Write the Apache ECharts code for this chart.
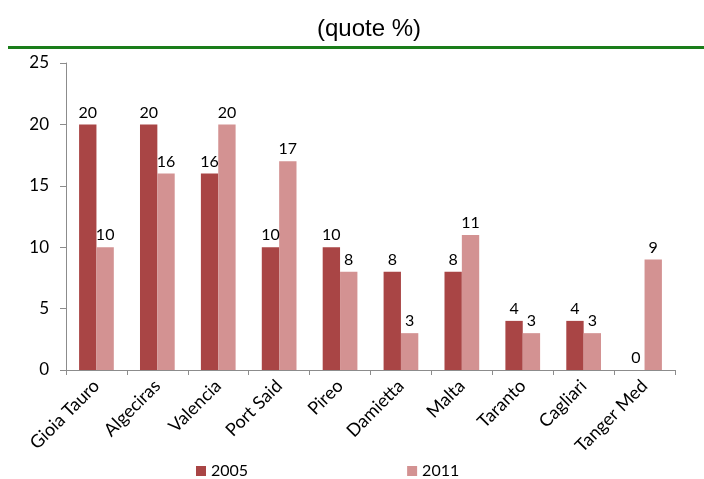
<!DOCTYPE html>
<html><head><meta charset="utf-8">
<script src="https://cdn.jsdelivr.net/npm/echarts@6/dist/echarts.min.js"></script>
<style>html,body{margin:0;padding:0;background:#fff}#c{width:704px;height:479px}</style>
</head><body><div id="c"></div>
<script>
var categories = ["Gioia Tauro","Algeciras","Valencia","Port Said","Pireo","Damietta","Malta","Taranto","Cagliari","Tanger Med"];
var values2005 = [20,20,16,10,10,8,8,4,4,0];
var values2011 = [10,16,20,17,8,3,11,3,3,9];
var seriesNames = ["2005","2011"];
var chart = echarts.init(document.getElementById('c'));
var font = 'Lato, "Open Sans", sans-serif';
var lbl = {show:true, position:'top', distance:4, color:'#000', fontFamily:font, fontSize:16};
chart.setOption({
  animation:false,
  title:{text:'(quote %)', left:364, textAlign:'center', top:12,
    textStyle:{fontFamily:'"Liberation Sans", Arial, sans-serif', fontWeight:'normal', fontSize:24, color:'#000'}},
  graphic:[{type:'rect', shape:{x:8,y:46,width:696,height:3}, style:{fill:'#1a7d1a'}}],
  legend:{top:458, left:191, itemWidth:10, itemHeight:10, itemGap:159, icon:'rect',
    textStyle:{fontFamily:font, fontSize:16, color:'#000'}, data:seriesNames},
  grid:{left:66, right:29, top:63, bottom:109, containLabel:false},
  xAxis:{type:'category', data:categories,
    axisLine:{lineStyle:{color:'#8c8c8c'}},
    axisTick:{show:true, length:5, lineStyle:{color:'#8c8c8c'}},
    axisLabel:{rotate:45, margin:13, color:'#000', fontFamily:font, fontSize:18, interval:0}},
  yAxis:{type:'value', min:0, max:25, interval:5,
    axisLine:{show:true, lineStyle:{color:'#8c8c8c'}},
    axisTick:{show:true, length:6, lineStyle:{color:'#8c8c8c'}},
    splitLine:{show:false},
    axisLabel:{margin:17, color:'#000', fontFamily:font, fontSize:17}},
  series:[
    {name:seriesNames[0], type:'bar', data:values2005, barGap:'0%', barCategoryGap:'43%',
      itemStyle:{color:'#a94545'}, label:lbl},
    {name:seriesNames[1], type:'bar', data:values2011,
      itemStyle:{color:'#d39292'}, label:lbl}
  ]
});
</script></body></html>
